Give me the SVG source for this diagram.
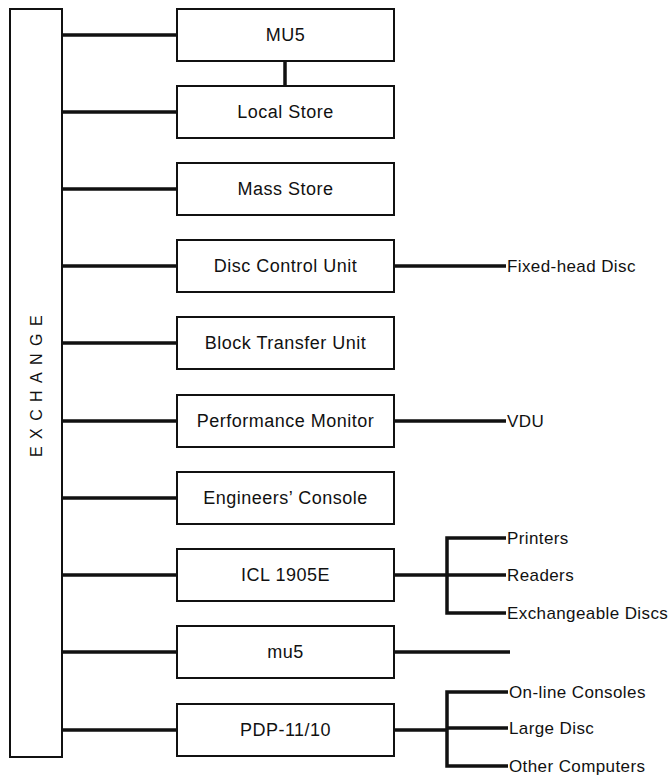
<svg xmlns="http://www.w3.org/2000/svg" width="671" height="778" viewBox="0 0 671 778">
<style>
.box{fill:#fff;stroke:#111;stroke-width:2}
.t{font-family:"Liberation Sans",Arial,sans-serif;font-size:18px;letter-spacing:0.5px;fill:#111;text-anchor:middle;dominant-baseline:central}
.l{font-family:"Liberation Sans",Arial,sans-serif;font-size:17px;letter-spacing:0.4px;fill:#111;dominant-baseline:central}
.c{stroke:#111;stroke-width:3.5;fill:none}
</style>
<rect width="671" height="778" fill="#fff"/>
<g id="exchange">
<rect class="box" x="10" y="9" width="52" height="748"/>
<text transform="translate(42,457) rotate(-90)" style="font-family:'Liberation Sans',Arial,sans-serif;font-size:16px;letter-spacing:7.4px;fill:#111">EXCHANGE</text>
</g>
<g id="connectors">
<path class="c" d="M62 35H177M62 112H177M62 189H177M62 266H177M62 343H177M62 421H177M62 498H177M62 575H177M62 652H177M62 730H177"/>
<path class="c" d="M285 61V86"/>
<path class="c" d="M394 266H506M394 421H506M394 652H510"/>
<path class="c" d="M394 575H447M506 538H447V613H506M447 575H506"/>
<path class="c" d="M394 730H447M508 692H447V766H508M447 728H508"/>
</g>
<g id="mu5top"><rect class="box" x="177" y="9" width="217" height="52"/><text class="t" x="285.5" y="35">MU5</text></g>
<g id="localstore"><rect class="box" x="177" y="86" width="217" height="52"/><text class="t" x="285.5" y="112">Local Store</text></g>
<g id="massstore"><rect class="box" x="177" y="163" width="217" height="52"/><text class="t" x="285.5" y="189">Mass Store</text></g>
<g id="disccontrol"><rect class="box" x="177" y="240" width="217" height="52"/><text class="t" x="285.5" y="266">Disc Control Unit</text></g>
<g id="blocktransfer"><rect class="box" x="177" y="317" width="217" height="52"/><text class="t" x="285.5" y="343">Block Transfer Unit</text></g>
<g id="perfmon"><rect class="box" x="177" y="395" width="217" height="52"/><text class="t" x="285.5" y="421">Performance Monitor</text></g>
<g id="engconsole"><rect class="box" x="177" y="472" width="217" height="52"/><text class="t" x="285.5" y="498">Engineers’ Console</text></g>
<g id="icl"><rect class="box" x="177" y="549" width="217" height="52"/><text class="t" x="285.5" y="575">ICL 1905E</text></g>
<g id="mu5low"><rect class="box" x="177" y="626" width="217" height="52"/><text class="t" x="285.5" y="652">mu5</text></g>
<g id="pdp"><rect class="box" x="177" y="704" width="217" height="52"/><text class="t" x="285.5" y="730">PDP-11/10</text></g>
<g id="labels">
<text class="l" x="507" y="266">Fixed-head Disc</text>
<text class="l" x="507" y="421">VDU</text>
<text class="l" x="507" y="538">Printers</text>
<text class="l" x="507" y="575">Readers</text>
<text class="l" x="507" y="613">Exchangeable Discs</text>
<text class="l" x="509" y="692">On-line Consoles</text>
<text class="l" x="509" y="728">Large Disc</text>
<text class="l" x="509" y="766">Other Computers</text>
</g>
</svg>
